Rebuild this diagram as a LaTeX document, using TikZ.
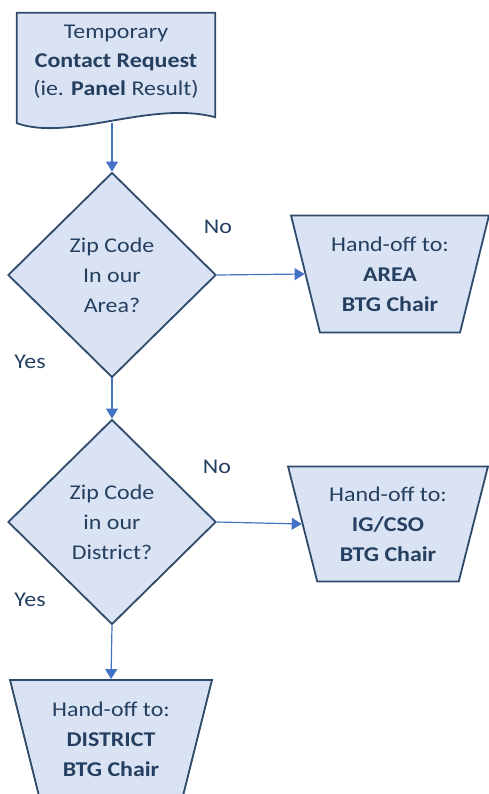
\documentclass[tikz,border=0pt]{standalone}
\usepackage{fontspec}
\setmainfont{Carlito}[FakeStretch=1.14]
\usetikzlibrary{shapes.geometric,arrows.meta}
\definecolor{boxfill}{HTML}{DAE3F3}
\definecolor{boxline}{HTML}{2F4B6C}
\definecolor{boxtext}{HTML}{243F60}
\definecolor{arrowblue}{HTML}{4472C4}
\begin{document}
\begin{tikzpicture}[
	x=1pt, y=-1pt,
	font=\fontsize{21}{30}\selectfont,
	decision/.style={
		diamond, draw=boxline, fill=boxfill, line width=1.8pt,
		minimum width=208pt, minimum height=205pt, inner sep=0pt,
		text=boxtext, align=center
	},
	handoff/.style={
		trapezium, shape border rotate=180, trapezium stretches=true,
		trapezium left angle=72, trapezium right angle=72,
		draw=boxline, fill=boxfill, line width=1.8pt,
		minimum width=198pt, minimum height=117pt, inner sep=0pt,
		text=boxtext, align=center
	},
	answer/.style={text=boxtext},
	line/.style={draw=arrowblue, line width=1.2pt, -{Triangle[width=12pt,length=10pt]}},
	]
	\useasboundingbox (0,0) rectangle (489,794);

	% document shape with wavy bottom
	\node [minimum width=198pt, minimum height=110pt, inner sep=0pt,
		text=boxtext, align=center] (req) at (116,68) {};
	\draw [boxline, fill=boxfill, line width=1.8pt]
		(req.south west) -- (req.north west) -- (req.north east)
		-- ([yshift=6pt]req.south east)
		.. controls (150,100) and (70,142) .. (req.south west) -- cycle;
	\node [text=boxtext, align=center, font=\fontsize{21}{28.5}\selectfont] (reqtext) at ([yshift=6pt]req.center)
		{Temporary\\ \textbf{Contact Request}\\ (ie. \textbf{Panel} Result)};

	\node [decision] (area) at (112,275) {Zip Code\\ In our\\ Area?};
	\node [decision] (dist) at (112,522) {Zip Code\\ in our\\ District?};

	\node [handoff] (areachair) at (390,274) {Hand-off to:\\ \textbf{AREA}\\ \textbf{BTG Chair}};
	\node [handoff, minimum width=200pt, minimum height=115pt] (igchair) at (388,524) {Hand-off to:\\ \textbf{IG/CSO}\\ \textbf{BTG Chair}};
	\node [handoff, minimum width=202pt, minimum height=118pt] (distchair) at (111,739) {Hand-off to:\\ \textbf{DISTRICT}\\ \textbf{BTG Chair}};

	\node [answer] (no1) at (218,227) {No};
	\node [answer] (yes1) at (30,362) {Yes};
	\node [answer] (no2) at (217,467) {No};
	\node [answer] (yes2) at (30,600) {Yes};

	\path [line] (area.north |- req.south) -- (area.north);
	\path [line] (area.east) -- (areachair.west);
	\path [line] (area.south) -- (dist.north);
	\path [line] (dist.east) -- (igchair.west);
	\path [line] (dist.south) -- (distchair.north);
\end{tikzpicture}
\end{document}
